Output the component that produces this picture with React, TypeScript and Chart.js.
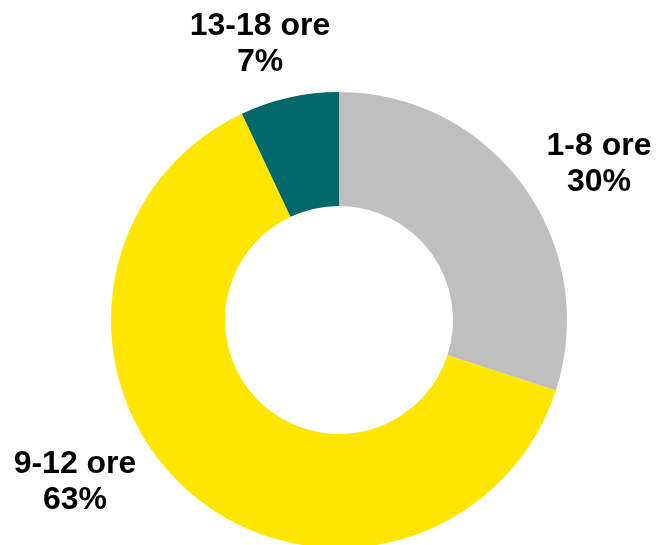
import React, { useEffect, useRef } from "react";
import { Chart, registerables } from "chart.js";

Chart.register(...registerables);

const categories = ["1-8 ore", "9-12 ore", "13-18 ore"];
const values = [30, 63, 7];
const percentLabels = ["30%", "63%", "7%"];
const colors = ["#BFBFBF", "#FFE600", "#03686C"];

// label anchor (centre x, first baseline y) per category
const labelAnchors = [
  { x: 599, y: 155 },
  { x: 75, y: 473 },
  { x: 260, y: 35 },
];

const labelPlugin = {
  id: "sliceLabels",
  afterDraw(chart: any) {
    const ctx = chart.ctx;
    ctx.save();
    ctx.fillStyle = "#000000";
    ctx.font = "bold 32px 'Liberation Sans', Arial, sans-serif";
    ctx.textAlign = "center";
    ctx.textBaseline = "alphabetic";
    categories.forEach((c, i) => {
      const a = labelAnchors[i];
      ctx.fillText(c, a.x, a.y);
      ctx.fillText(percentLabels[i], a.x, a.y + 36);
    });
    ctx.restore();
  },
};

export default function App() {
  const ref = useRef<HTMLCanvasElement | null>(null);
  useEffect(() => {
    if (!ref.current) return;
    const chart = new Chart(ref.current, {
      type: "doughnut",
      data: {
        labels: categories,
        datasets: [
          {
            data: values,
            backgroundColor: colors,
            borderWidth: 0,
          },
        ],
      },
      options: {
        responsive: false,
        animation: false,
        cutout: "50%",
        layout: { padding: { left: 111, right: 89, top: 92, bottom: 12 } },
        plugins: {
          legend: { display: false },
          tooltip: { enabled: false },
        },
      },
      plugins: [labelPlugin],
    });
    return () => chart.destroy();
  }, []);
  return (
    <div
      style={{
        position: "fixed",
        left: 0,
        top: 0,
        width: 656,
        height: 545,
        overflow: "hidden",
        background: "#ffffff",
      }}
    >
      <canvas ref={ref} width={656} height={560} style={{ display: "block" }} />
    </div>
  );
}
